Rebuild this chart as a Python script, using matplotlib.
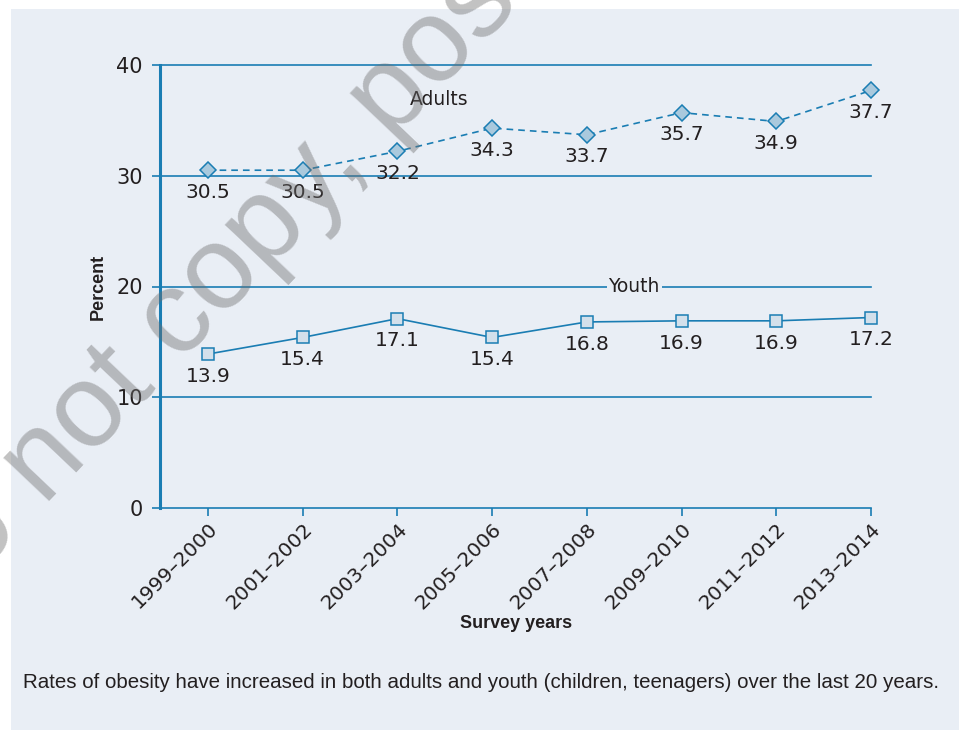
import matplotlib
matplotlib.use("Agg")
import matplotlib.pyplot as plt
from matplotlib.patches import Rectangle

# --------- data --------------------------------------------------------------
periods = ["1999–2000", "2001–2002", "2003–2004", "2005–2006",
           "2007–2008", "2009–2010", "2011–2012", "2013–2014"]
adults = [30.5, 30.5, 32.2, 34.3, 33.7, 35.7, 34.9, 37.7]
youth = [13.9, 15.4, 17.1, 15.4, 16.8, 16.9, 16.9, 17.2]
yticks = [0, 10, 20, 30, 40]

BLUE = "#1a7db3"
PANEL = "#e9eef5"
INK = "#231f20"
NUM_FONT = ["DejaVu Sans"]
LABEL_FONT = ["Liberation Sans", "DejaVu Sans"]

W, H = 959, 730
fig = plt.figure(figsize=(W / 100, H / 100), dpi=100)
fig.patch.set_facecolor("white")
fig.patches.append(Rectangle((11 / W, 0), 1 - 11 / W, 1 - 9 / H,
                             transform=fig.transFigure, facecolor=PANEL,
                             edgecolor="none", zorder=-5))

ax = fig.add_axes([160 / W, 1 - 508 / H, (871 - 160) / W, (508 - 65) / H])
ax.set_facecolor("none")
x = list(range(len(periods)))

# horizontal rules (drawn unclipped so the top one is full width)
for t in yticks[1:]:
    ax.axhline(t, color=BLUE, lw=1.2, clip_on=False, zorder=1)

ax.plot(x, adults, color=BLUE, lw=1.2, ls=(0, (4, 3)), marker="D", ms=8.5,
        mfc="#a9c9dd", mec=BLUE, mew=1.1, clip_on=False, zorder=4)
ax.plot(x, youth, color=BLUE, lw=1.2, marker="s", ms=8.5,
        mfc="#d3e0eb", mec=BLUE, mew=1.1, clip_on=False, zorder=4)

for xi, v in zip(x, adults):
    ax.annotate(f"{v:.1f}", (xi, v), xytext=(0, -16), textcoords="offset points",
                ha="center", va="center", fontsize=14.5, color=INK,
                family=NUM_FONT, zorder=5)
for xi, v in zip(x, youth):
    ax.annotate(f"{v:.1f}", (xi, v), xytext=(0, -16), textcoords="offset points",
                ha="center", va="center", fontsize=14.5, color=INK,
                family=NUM_FONT, zorder=5)

ax.text(2.44, 36.85, "Adults", ha="center", va="center", fontsize=13.5,
        color=INK, family=NUM_FONT, zorder=5)
ax.text(4.5, 20, "Youth", ha="center", va="center", fontsize=13.5,
        color=INK, family=NUM_FONT, zorder=5,
        bbox=dict(boxstyle="square,pad=0.1", facecolor=PANEL, edgecolor="none"))

ax.set_xlim(-0.506, 7.0)
ax.set_ylim(0, 40)
ax.set_yticks(yticks)
ax.set_xticks(x)
ax.set_xticklabels(periods, rotation=45, ha="right", va="top",
                   rotation_mode="anchor", fontsize=14.5, color=INK, family=NUM_FONT)
ax.set_yticklabels([str(t) for t in yticks], fontsize=15, color=INK, family=NUM_FONT)
ax.tick_params(axis="y", length=5.8, width=1.2, color=BLUE, pad=6.5)
ax.tick_params(axis="x", length=5.5, width=1.2, color=BLUE, pad=2.5)
for s in ["top", "right"]:
    ax.spines[s].set_visible(False)
ax.spines["left"].set_color(BLUE)
ax.spines["left"].set_linewidth(2.2)
ax.spines["left"].set_zorder(3)
ax.spines["bottom"].set_color(BLUE)
ax.spines["bottom"].set_linewidth(1.2)

fig.text(98 / W, 1 - 287 / H, "Percent", rotation=90, ha="center", va="center",
         fontsize=13, fontweight="bold", color=INK, family=LABEL_FONT)
fig.text(516 / W, 1 - 623 / H, "Survey years", ha="center", va="center",
         fontsize=13, fontweight="bold", color=INK, family=LABEL_FONT)
fig.text(23 / W, 1 - 683 / H,
         "Rates of obesity have increased in both adults and youth "
         "(children, teenagers) over the last 20 years.",
         ha="left", va="center", fontsize=14.8, color=INK, family=LABEL_FONT)

# watermark
fig.text(-82 / W, 1 - 640 / H, "Do not copy, post, or distribute", rotation=46.5,
         rotation_mode="anchor", ha="left", va="baseline", fontsize=85,
         color="#6e6e6e", alpha=0.42, family=LABEL_FONT, zorder=10)

fig.savefig("out.png", dpi=100)
